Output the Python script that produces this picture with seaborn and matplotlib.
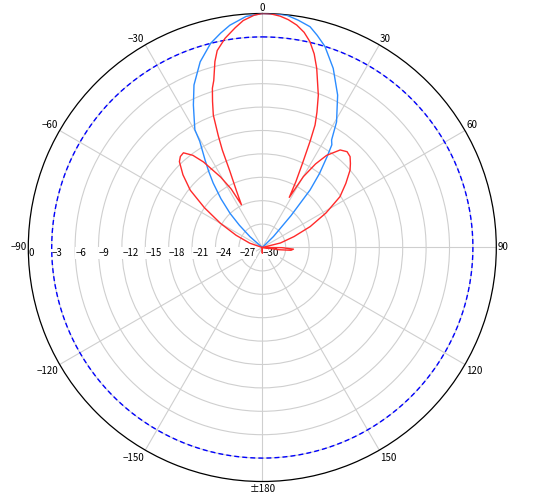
import numpy as np
import pandas as pd
import matplotlib
matplotlib.use("Agg")
import matplotlib.pyplot as plt
import seaborn as sns

# ---------------- data ----------------
red_angle_deg = [-180, -176, -120, -75, -71, -65, -60, -55.5, -51.5, -47.5, -44, -42,
                 -39.8, -37, -34.5, -30.6, -28, -26, -24.5, -23, -22.3, -21.5, -20.3,
                 -18.8, -17.4, -16.2, -14.3, -12.9, -10.1, -7, -4.8, -2, 0, 2, 4.4,
                 6.5, 8.8, 11, 13, 15, 16.9, 20.2, 22, 23.3, 24.2, 25.5, 27, 28.3,
                 30.1, 32.5, 34.9, 38.6, 41.5, 44, 46.4, 48.6, 52.5, 56.8, 61.5, 66.4,
                 71, 76, 80, 88, 90.5, 93, 95.5, 97.5, 99, 120, 176, 180]
red_db = [-29.3, -30, -30, -30, -28.3, -26.3, -23.8, -21.0, -18.2, -16.2, -14.7, -14.3,
          -14.2, -15.2, -16.7, -19.5, -21.5, -23.9, -22.0, -19.3, -16.5, -14.6, -11.9,
          -10.2, -8.6, -7.7, -5.4, -4.1, -2.76, -1.6, -0.8, -0.2, 0, -0.02, -0.25,
          -0.6, -1.14, -1.9, -2.9, -4.3, -6.0, -9.2, -11.3, -12.9, -15.0, -18.0, -20.5, -22.7,
          -19.5, -17.3, -15.6, -14.0, -13.6, -13.8, -14.4, -15.0, -16.5, -18.1, -20.7, -23.3,
          -25.7, -27.6, -30, -30, -27.5, -26.0, -26.3, -27.8, -30, -30, -30, -29.3]

blue_angle_deg = [-180, -120, -60, -52, -48.7, -45.8, -43.4, -40.3, -37.3, -35.2, -33.2,
                  -30.5, -29.8, -27.3, -25.8, -22.8, -18.5, -14.2, -11, -8.3, -4, 0, 4, 6,
                  9, 12.2, 14.5, 17.3, 21.6, 26.3, 30.6, 32.8, 34.1, 35.5, 37.7, 39.7, 42,
                  45.5, 49, 60, 120, 180]
blue_db = [-30, -30, -30, -30, -27.9, -25.9, -24.0, -21.8, -19.6, -18.1, -16.6,
           -14.2, -12.6, -10.9, -9.7, -7.4, -4.9, -3.0, -2.0, -1.2, -0.3, 0, -0.02, -0.05,
           -0.5, -1.04, -1.9, -3.0, -5.3, -8.2, -11.3, -13.6, -14.1, -15.7, -18.0, -20.4,
           -24.5, -28.0, -30, -30, -30, -30]

theta_ticks_deg = [0, 30, 60, 90, 120, 150, 180, 210, 240, 270, 300, 330]
theta_tick_labels = ["0", "30", "60", "90", "120", "150", "\u00b1180",
                     "\u2212150", "\u2212120", "\u221290", "\u221260", "\u221230"]
radial_ticks = [0, -3, -6, -9, -12, -15, -18, -21, -24, -27, -30]
radial_tick_labels = ["0", "\u22123", "\u22126", "\u22129", "\u221212", "\u221215",
                      "\u221218", "\u221221", "\u221224", "\u221227", "\u221230"]
ref_level_db = -3
r_min, r_max = -30, 0
radial_label_angle_deg = 270

# ---------------- figure ----------------
sns.set_style("white")
plt.rcParams["font.family"] = ["Noto Sans CJK SC", "DejaVu Sans"]

fig = plt.figure(figsize=(5.35, 5.0), dpi=100)
ax = fig.add_axes([28.3 / 535, 18.5 / 500, 468 / 535, 468 / 500], projection="polar")
ax.set_theta_zero_location("N")
ax.set_theta_direction(-1)

red_df = pd.DataFrame({"theta": np.deg2rad(red_angle_deg), "db": red_db})
blue_df = pd.DataFrame({"theta": np.deg2rad(blue_angle_deg), "db": blue_db})

sns.lineplot(data=blue_df, x="theta", y="db", ax=ax, sort=False, estimator=None,
             color="#2b8cff", linewidth=1.0, zorder=4)
sns.lineplot(data=red_df, x="theta", y="db", ax=ax, sort=False, estimator=None,
             color="#ff2a2a", linewidth=1.0, zorder=5)

# -3 dB reference circle
circ = np.linspace(0, 2 * np.pi, 721)
ax.plot(circ, np.full_like(circ, ref_level_db), color="#0000ff", linewidth=1.0,
        dashes=(3.6, 2.2), zorder=3)

ax.set_ylim(r_min, r_max)
ax.set_xlabel("")
ax.set_ylabel("")

# grids
grid_kw = dict(color="#cfcfcf", linewidth=0.8)
ax.set_yticks([t for t in radial_ticks if r_min < t < r_max])
ax.set_yticklabels([])
spokes = [a for a in theta_ticks_deg if a != radial_label_angle_deg]
ax.set_xticks(np.deg2rad(spokes))
ax.set_xticklabels([])
ax.xaxis.grid(True, **grid_kw)
ax.yaxis.grid(True, **grid_kw)
ax.set_axisbelow(True)
ax.tick_params(axis="both", length=0)
ax.spines["polar"].set_color("black")
ax.spines["polar"].set_linewidth(0.9)

# theta labels
fs = 7
for a, lab in zip(theta_ticks_deg, theta_tick_labels):
    if a in (0, 180):
        ha = "center"
    elif a < 180:
        ha = "left"
    else:
        ha = "right"
    if a in (90, 270):
        va = "center"
    elif a < 90 or a > 270:
        va = "bottom"
    else:
        va = "top"
    s, c = np.sin(np.deg2rad(a)), np.cos(np.deg2rad(a))
    ax.annotate(lab, xy=(np.deg2rad(a), r_max),
                xytext=(1.2 * s, 0.6 * c if c > 0 else 2.0 * c),
                textcoords="offset points", ha=ha, va=va, fontsize=fs,
                annotation_clip=False, color="black")

# radial labels
for r, lab in zip(radial_ticks, radial_tick_labels):
    ax.annotate(lab, xy=(np.deg2rad(radial_label_angle_deg), r), xytext=(0.3, -0.6),
                textcoords="offset points", ha="left", va="top", fontsize=fs,
                color="black", zorder=2.5,
                bbox=dict(facecolor="white", edgecolor="none", pad=0.6))

fig.savefig("out.png", dpi=100)
